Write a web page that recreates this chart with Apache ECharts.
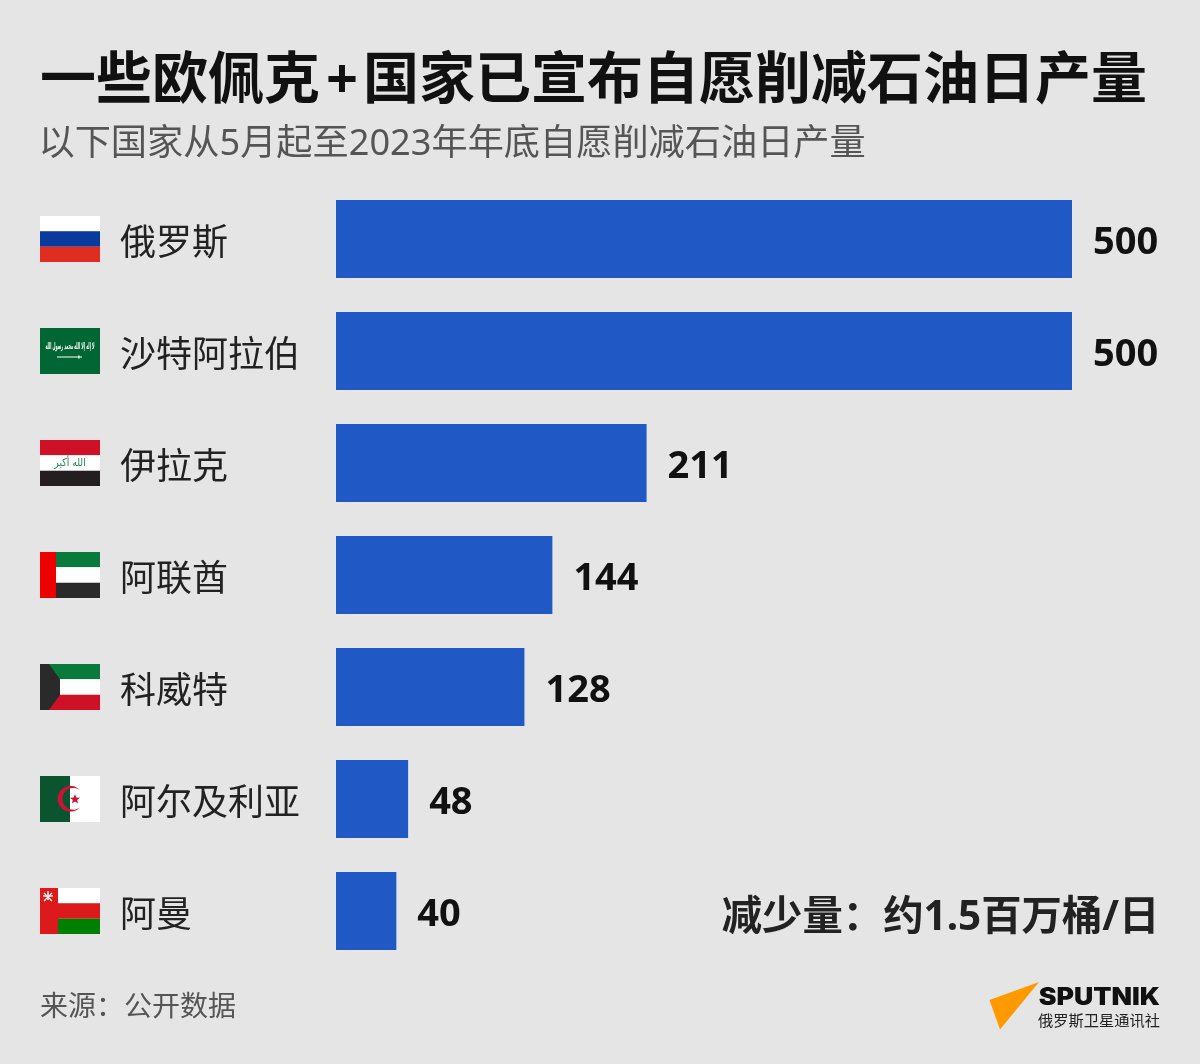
<!DOCTYPE html>
<html>
<head>
<meta charset="utf-8">
<style>
html, body { margin: 0; padding: 0; background: #e5e5e5; }
#chart { width: 1200px; height: 1064px; }
</style>
<script src="https://cdn.jsdelivr.net/npm/echarts@6/dist/echarts.min.js"></script>
</head>
<body>
<div id="chart"></div>
<script>
var countries = ['俄罗斯', '沙特阿拉伯', '伊拉克', '阿联酋', '科威特', '阿尔及利亚', '阿曼'];
// printed figures
var valueLabels = ['500', '500', '211', '144', '128', '48', '40'];
// bar lengths as drawn in the picture (the 144 bar is drawn a little longer than its figure)
var barValues = [500, 500, 211, 147, 128, 49, 41];

var FONT = '"Noto Sans", "Noto Sans CJK SC", sans-serif';
var CJK_FONT = '"Noto Sans CJK SC", "Noto Sans", sans-serif';

function rect(x, y, w, h, fill) {
	return { type: 'rect', shape: { x: x, y: y, width: w, height: h }, style: { fill: fill } };
}
function poly(points, fill) {
	return { type: 'polygon', shape: { points: points }, style: { fill: fill } };
}
function line(x1, y1, x2, y2, stroke, w) {
	return { type: 'line', shape: { x1: x1, y1: y1, x2: x2, y2: y2 }, style: { stroke: stroke, lineWidth: w } };
}
function flagText(text, x, y, font, fill, scaleX) {
	return { type: 'text', x: x, y: y, scaleX: scaleX || 1, style: { text: text, fill: fill, font: font + ' "DejaVu Sans"', align: 'center', verticalAlign: 'middle' } };
}
function star(cx, cy, r, fill) {
	var pts = [];
	for (var i = 0; i < 10; i++) {
		var a = -Math.PI / 2 + i * Math.PI / 5;
		var rr = i % 2 ? r * 0.42 : r;
		pts.push([cx + rr * Math.cos(a), cy + rr * Math.sin(a)]);
	}
	return poly(pts, fill);
}
function crescent(fill) {
	var pts = [], i, a;
	// outer arc, then back along the inner arc
	for (i = 0; i <= 40; i++) {
		a = -0.73 - i * (2 * Math.PI - 1.46) / 40;
		pts.push([30.5 + 12.8 * Math.cos(a), 22.8 + 12.8 * Math.sin(a)]);
	}
	for (i = 40; i >= 0; i--) {
		a = -0.907 - i * (2 * Math.PI - 1.814) / 40;
		pts.push([33.3 + 10.9 * Math.cos(a), 22.8 + 10.9 * Math.sin(a)]);
	}
	return poly(pts, fill);
}

function flagParts(i) {
	var W = 60, H = 46, s = H / 3;
	switch (i) {
		case 0: return [rect(0, 0, W, s, '#ffffff'), rect(0, s, W, s, '#0b3a9e'), rect(0, 2 * s, W, s, '#e02d20')];
		case 1: return [rect(0, 0, W, H, '#006633'),
			flagText('لا إله إلا الله محمد رسول الله', 30, 19, 'bold 9px', '#ffffff', 0.38),
			line(17, 29, 42, 29, '#ffffff', 1), rect(38, 27.5, 1.5, 3, '#ffffff')];
		case 2: return [rect(0, 0, W, s, '#ce1126'), rect(0, s, W, s, '#ffffff'), rect(0, 2 * s, W, s, '#231f20'),
			flagText('الله أكبر', 30, 23, '11px', '#1f8a4c', 0.85)];
		case 3: return [rect(0, 0, W, s, '#0a7a3c'), rect(0, s, W, s, '#ffffff'), rect(0, 2 * s, W, s, '#2a2a2a'), rect(0, 0, 16, H, '#ee0000')];
		case 4: return [rect(0, 0, W, s, '#0a7a3c'), rect(0, s, W, s, '#ffffff'), rect(0, 2 * s, W, s, '#ce1126'),
			poly([[0, 0], [9, 0], [20, s], [20, 2 * s], [9, H], [0, H]], '#2a2a2a')];
		case 5: return [rect(0, 0, 30, H, '#0a5530'), rect(30, 0, 30, H, '#ffffff'), crescent('#d21034'), star(35, 23.3, 5.3, '#d21034')];
		default: return [rect(0, 0, W, s, '#ffffff'), rect(0, s, W, s, '#dc1a1c'), rect(0, 2 * s, W, s, '#008000'), rect(0, 0, 18, H, '#dc1a1c'),
			line(4, 5, 12, 13, '#ffffff', 1.3), line(12, 5, 4, 13, '#ffffff', 1.3), line(8, 3, 8, 12, '#ffffff', 1.3), line(3, 8, 13, 8, '#ffffff', 1.3)];
	}
}

var chart = echarts.init(document.getElementById('chart'), null, { renderer: 'canvas' });

chart.setOption({
	animation: false,
	backgroundColor: '#e5e5e5',
	title: [
		{
			text: '一些欧佩克{p|+}国家已宣布自愿削减石油日产量',
			left: 40, top: 42, padding: 0,
			textStyle: {
				fontFamily: FONT, fontSize: 56, fontWeight: 'bold', color: '#111111', lineHeight: 80,
				rich: { p: { fontFamily: FONT, fontSize: 56, fontWeight: 'bold', color: '#111111', lineHeight: 80, padding: [0, 5, 0, 6] } }
			}
		},
		{ text: '以下国家从5月起至2023年年底自愿削减石油日产量', left: 38.5, top: 119, padding: 0, textStyle: { fontFamily: FONT, fontSize: 36.2, fontWeight: 'normal', color: '#555555', lineHeight: 52 } },
		{ text: '来源：公开数据', left: 40, top: 988, padding: 0, textStyle: { fontFamily: FONT, fontSize: 28, fontWeight: 'normal', color: '#555555', lineHeight: 40 } }
	],
	grid: { left: 336, top: 183, width: 736, height: 784, containLabel: false },
	xAxis: { type: 'value', min: 0, max: 500, show: false },
	yAxis: {
		type: 'category',
		inverse: true,
		data: countries,
		axisLine: { show: false },
		axisTick: { show: false },
		axisLabel: {
			align: 'left',
			margin: 216,
			formatter: function(name) { return '{n|' + name + '}'; },
			rich: { n: { fontFamily: CJK_FONT, fontSize: 36, color: '#222222', padding: [4, 0, 0, 0] } }
		}
	},
	series: [{
		type: 'bar',
		data: barValues,
		barWidth: 78,
		itemStyle: { color: '#2058c6' },
		label: {
			show: true,
			position: 'right',
			distance: 21,
			offset: [0, 4],
			fontFamily: FONT,
			fontSize: 38,
			fontWeight: 'bold',
			color: '#111111',
			formatter: function(p) { return valueLabels[p.dataIndex]; }
		}
	}]
});

var graphics = countries.map(function(name, i) {
	var cy = chart.convertToPixel({ yAxisIndex: 0 }, name);
	return { type: 'group', x: 40, y: cy - 23, children: flagParts(i) };
});
graphics.push({ type: 'text', x: 1159.5, y: 918, style: { text: '减少量：约1.5百万桶/日', fill: '#222222', font: 'bold 40.4px ' + FONT, align: 'right', verticalAlign: 'middle' } });
graphics.push(poly([[1039, 982], [989.5, 1000], [1000, 1029.5]], '#ff9900'));
graphics.push({ type: 'text', x: 1160, y: 998, scaleX: 1.11, style: { text: 'SPUTNIK', fill: '#111111', font: '900 24px Inter, sans-serif', align: 'right', verticalAlign: 'middle' } });
graphics.push({ type: 'text', x: 1038, y: 1022, style: { text: '俄罗斯卫星通讯社', fill: '#222222', font: '15.25px ' + FONT, align: 'left', verticalAlign: 'middle' } });

chart.setOption({ graphic: graphics });
</script>
</body>
</html>
